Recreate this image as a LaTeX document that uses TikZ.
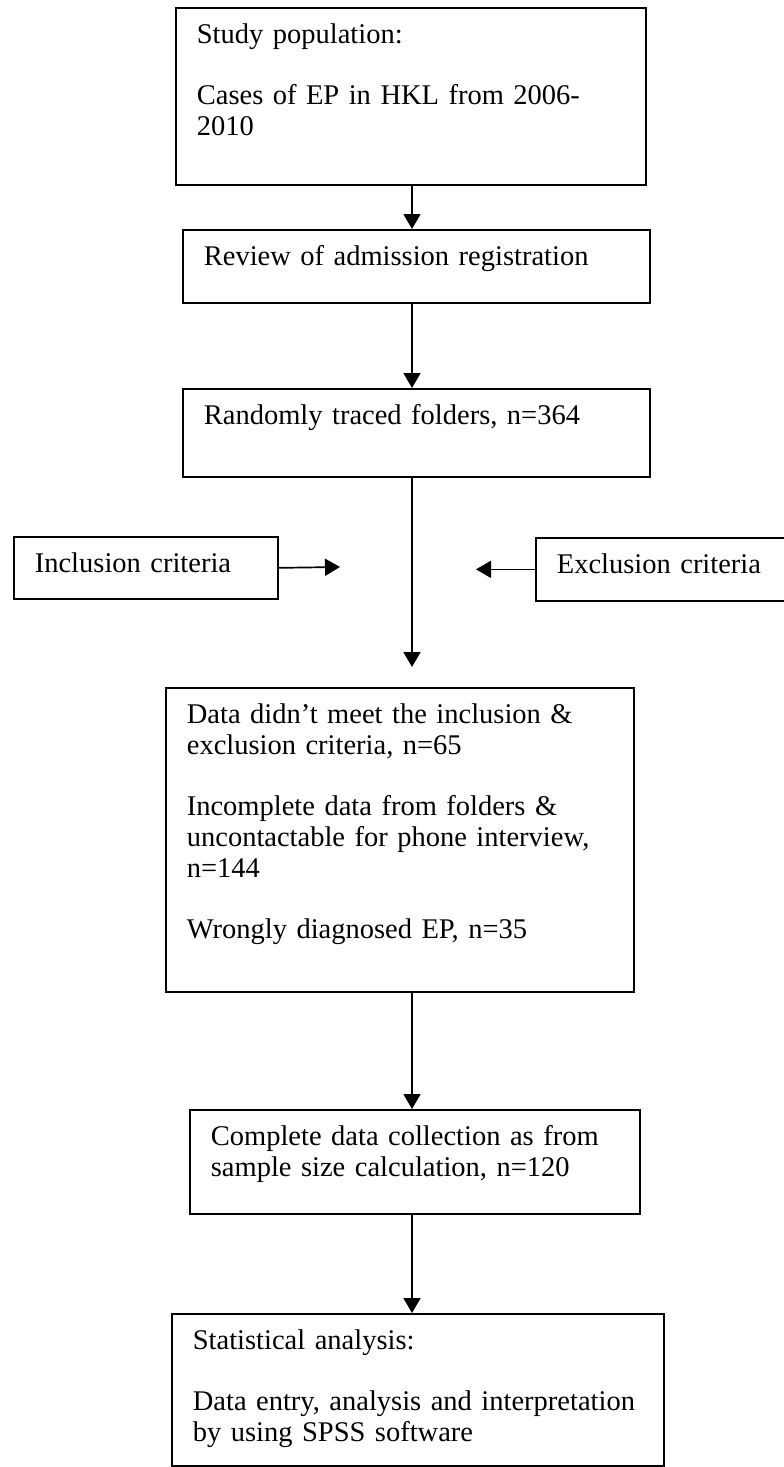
\documentclass[tikz,border=0pt]{standalone}
\usepackage{fontspec}
\setmainfont{Liberation Serif}
\usetikzlibrary{arrows.meta,positioning}
\tikzset{stage/.style={draw=black,line width=1.7pt,anchor=north west,align=left,
 inner xsep=21pt,inner ysep=0pt,text height=36pt,font=\fontsize{28.5pt}{31pt}\selectfont},
 arr/.style={-{Triangle[length=15pt,width=17pt]},line width=1.7pt,draw=black}}

\begin{document}
\begin{tikzpicture}[x=1pt,y=-1pt]
\clip (0,0) rectangle (784,1467);
\coordinate (spine) at (412,0);
\node[stage,text width=428pt,text depth=141pt] (pop) at (175,7) {Study population:\\[30pt]Cases of EP in HKL from 2006-\\2010};
\node[stage,text width=425pt,text depth=37pt] (review) at (182,229) {Review of admission registration};
\node[stage,text width=425pt,text depth=52pt] (traced) at (182,388) {Randomly traced folders, n=364};
\node[stage,text width=222pt,text depth=26pt] (incl) at (13,536) {Inclusion criteria};
\node[stage,text width=223pt,text depth=27pt] (excl) at (535,537) {Exclusion criteria};
\node[stage,text width=426pt,text depth=268pt] (data) at (165,687) {Data didn't meet the inclusion \&\\exclusion criteria, n=65\\[30pt]Incomplete data from folders \&\\uncontactable for phone interview,\\n=144\\[30pt]Wrongly diagnosed EP, n=35};
\node[stage,text width=408pt,text depth=68pt] (complete) at (189,1109) {Complete data collection as from\\sample size calculation, n=120};
\node[stage,text width=450pt,text depth=116pt] (stats) at (171,1313) {Statistical analysis:\\[30pt]Data entry, analysis and interpretation\\by using SPSS software};
\coordinate (merge) at (412,667);
\coordinate (inclend) at (340,567);
\coordinate (exclend) at (476,567);
\draw[arr] (pop.south -| spine)--(review.north -| spine);
\draw[arr] (review.south -| spine)--(traced.north -| spine);
\draw[arr] (traced.south -| spine)--(merge);
\draw[arr] (incl.east)--(inclend);
\draw[arr] (excl.west)--(exclend |- excl.west);
\draw[arr] (data.south -| spine)--(complete.north -| spine);
\draw[arr] (complete.south -| spine)--(stats.north -| spine);
\end{tikzpicture}
\end{document}
